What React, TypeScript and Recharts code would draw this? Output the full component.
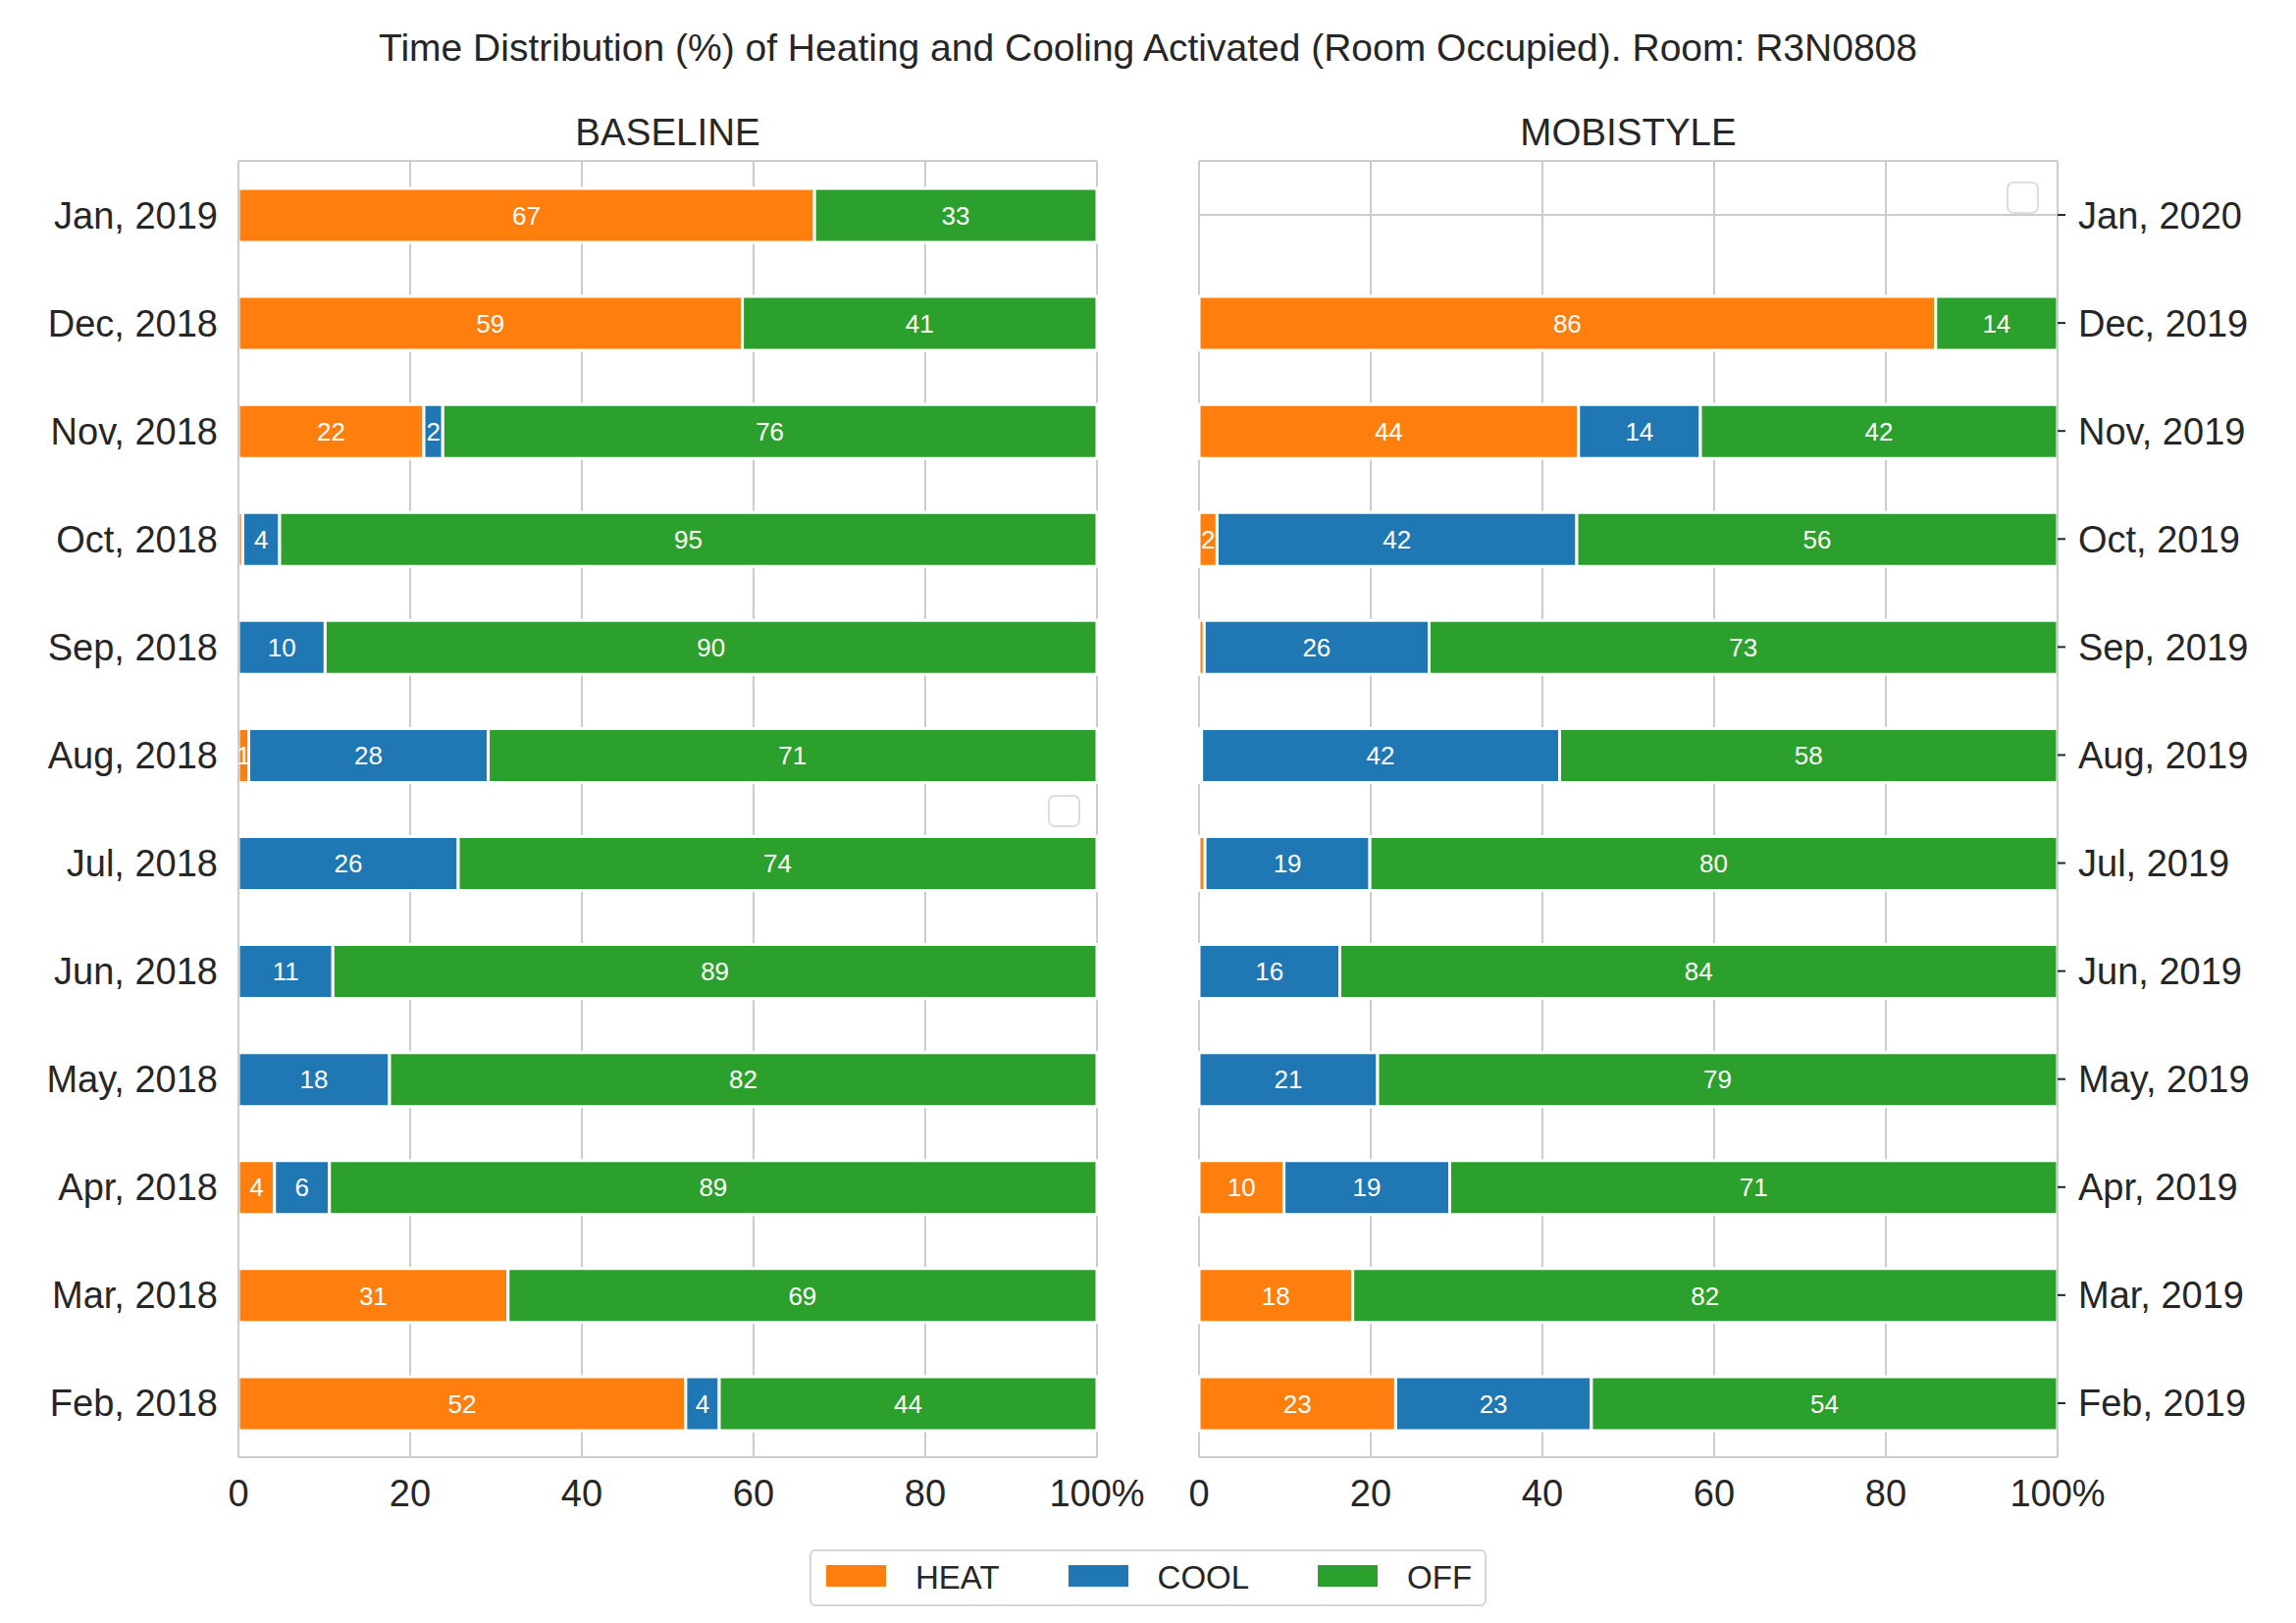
import React from "react";
import { BarChart, Bar, XAxis, YAxis, CartesianGrid, LabelList } from "recharts";

// rows listed top to bottom as drawn
const BASELINE_MONTHS = [
  "Jan, 2019", "Dec, 2018", "Nov, 2018", "Oct, 2018", "Sep, 2018", "Aug, 2018",
  "Jul, 2018", "Jun, 2018", "May, 2018", "Apr, 2018", "Mar, 2018", "Feb, 2018",
];
const BASELINE_HEAT = [67.1, 58.7, 21.6, 0.5, 0, 1.2, 0, 0, 0, 4.2, 31.4, 52.1];
const BASELINE_COOL = [0, 0, 2.2, 4.3, 10.1, 27.9, 25.6, 11.0, 17.6, 6.4, 0, 3.9];
const BASELINE_OFF = [32.9, 41.3, 76.2, 95.2, 89.9, 70.9, 74.4, 89.0, 82.4, 89.4, 68.6, 44.0];

const MOBISTYLE_MONTHS = [
  "Jan, 2020", "Dec, 2019", "Nov, 2019", "Oct, 2019", "Sep, 2019", "Aug, 2019",
  "Jul, 2019", "Jun, 2019", "May, 2019", "Apr, 2019", "Mar, 2019", "Feb, 2019",
];
const MOBISTYLE_HEAT = [null, 85.8, 44.2, 2.1, 0.6, 0.3, 0.7, 0, 0, 9.9, 17.9, 22.9];
const MOBISTYLE_COOL = [null, 0, 14.2, 41.9, 26.2, 41.7, 19.2, 16.4, 20.8, 19.3, 0, 22.8];
const MOBISTYLE_OFF = [null, 14.2, 41.6, 56.0, 73.2, 58.0, 80.1, 83.6, 79.2, 70.8, 82.1, 54.3];

const X_TICKS = [0, 20, 40, 60, 80, 100];

const SERIES = [
  { key: "heat", name: "HEAT", color: "#ff7f0e" },
  { key: "cool", name: "COOL", color: "#1f77b4" },
  { key: "off", name: "OFF", color: "#2ca02c" },
];

const TEXT = "#262626";
const GRID = "#cccccc";
const FONT = "'Liberation Sans', Arial, sans-serif";

function buildRows(months: string[], heat: (number | null)[], cool: (number | null)[], off: (number | null)[]) {
  return months.map((m, i) => ({ month: m, heat: heat[i], cool: cool[i], off: off[i] }));
}

const baselineRows = buildRows(BASELINE_MONTHS, BASELINE_HEAT, BASELINE_COOL, BASELINE_OFF);
const mobistyleRows = buildRows(MOBISTYLE_MONTHS, MOBISTYLE_HEAT, MOBISTYLE_COOL, MOBISTYLE_OFF);

const fmtLabel = (v: any) => (typeof v === "number" && v >= 1 ? String(Math.round(v)) : "");

function Panel({ rows, side }: { rows: any[]; side: "left" | "right" }) {
  const isLeft = side === "left";
  return (
    <BarChart
      width={1170}
      height={1560}
      data={rows}
      layout="vertical"
      margin={isLeft ? { top: 164, right: 52, bottom: 15, left: 13 } : { top: 164, right: 13, bottom: 15, left: 52 }}
    >
      <CartesianGrid stroke={GRID} strokeWidth={2} />
      <XAxis
        type="number"
        domain={[0, 100]}
        ticks={X_TICKS}
        tickFormatter={(v) => (v === 100 ? "100%" : String(v))}
        tickLine={false}
        tickSize={0}
        tickMargin={23}
        height={60}
        axisLine={{ stroke: GRID, strokeWidth: 2 }}
        tick={{ fontSize: 38, fill: TEXT }}
      />
      <XAxis
        xAxisId="top"
        orientation="top"
        type="number"
        domain={[0, 100]}
        height={0}
        tick={false}
        tickLine={false}
        axisLine={{ stroke: GRID, strokeWidth: 2 }}
      />
      <YAxis
        type="category"
        dataKey="month"
        orientation={isLeft ? "left" : "right"}
        width={230}
        interval={0}
        tickSize={isLeft ? 0 : 8}
        tickMargin={isLeft ? 21 : 13}
        tickLine={isLeft ? false : { stroke: TEXT, strokeWidth: 2 }}
        axisLine={{ stroke: GRID, strokeWidth: 2 }}
        tick={{ fontSize: 38, fill: TEXT }}
      />
      {SERIES.map((s) => (
        <Bar
          key={s.key}
          dataKey={s.key}
          name={s.name}
          stackId="a"
          fill={s.color}
          stroke="#ffffff"
          strokeWidth={3}
          barSize={55}
          isAnimationActive={false}
        >
          <LabelList dataKey={s.key} position="center" fill="#ffffff" fontSize={26} formatter={fmtLabel} />
        </Bar>
      ))}
    </BarChart>
  );
}

function EmptyLegend({ left, top }: { left: number; top: number }) {
  return (
    <div
      style={{
        position: "absolute",
        left,
        top,
        width: 29,
        height: 29,
        border: "2px solid #dddddd",
        borderRadius: 7,
        background: "#ffffff",
      }}
    />
  );
}

export default function App() {
  return (
    <div style={{ position: "relative", width: 2340, height: 1654, background: "#fff", fontFamily: FONT, color: TEXT }}>
      <style>{`body{margin:0}`}</style>
      <div style={{ position: "absolute", left: 0, width: 2340, top: 26, textAlign: "center", fontSize: 39, lineHeight: "46px" }}>
        Time Distribution (%) of Heating and Cooling Activated (Room Occupied). Room: R3N0808
      </div>
      <div style={{ position: "absolute", left: 243, width: 875, top: 114, textAlign: "center", fontSize: 38.5, lineHeight: "42px" }}>
        BASELINE
      </div>
      <div style={{ position: "absolute", left: 1222, width: 875, top: 114, textAlign: "center", fontSize: 38.5, lineHeight: "42px" }}>
        MOBISTYLE
      </div>
      <div style={{ position: "absolute", left: 0, top: 0 }}>
        <Panel rows={baselineRows} side="left" />
      </div>
      <div style={{ position: "absolute", left: 1170, top: 0 }}>
        <Panel rows={mobistyleRows} side="right" />
      </div>
      <EmptyLegend left={1068} top={810} />
      <EmptyLegend left={2045} top={185} />
      <div
        style={{
          position: "absolute",
          left: 825,
          top: 1579,
          width: 690,
          height: 58,
          boxSizing: "border-box",
          border: "2px solid #d6d6d6",
          borderRadius: 6,
          display: "flex",
          alignItems: "center",
          padding: "0 14px 0 15px",
          background: "#fff",
        }}
      >
        {SERIES.map((s, i) => (
          <div key={s.key} style={{ display: "flex", alignItems: "center", marginRight: i < SERIES.length - 1 ? 70 : 0 }}>
            <div style={{ width: 61, height: 22, background: s.color, marginRight: 30, marginTop: -4 }} />
            <span style={{ fontSize: 33, lineHeight: "38px" }}>{s.name}</span>
          </div>
        ))}
      </div>
    </div>
  );
}
